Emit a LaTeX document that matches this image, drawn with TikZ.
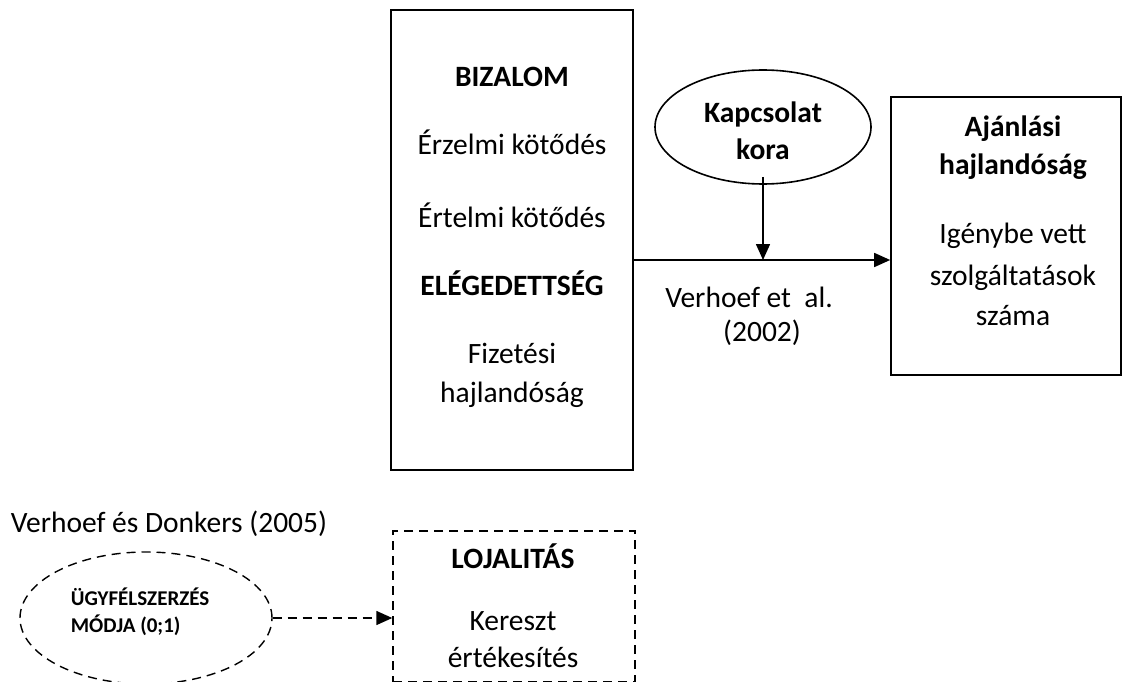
\documentclass[tikz,border=0pt]{standalone}
\usepackage{fontspec}
\setmainfont{Carlito}
\usetikzlibrary{arrows.meta,shapes.geometric}
\begin{document}
\begin{tikzpicture}[x=1pt,y=-1pt,
  line width=1.6pt,
  box/.style={draw,rectangle,inner sep=0pt},
  oval/.style={draw,ellipse,inner sep=0pt},
  dsh/.style={dash pattern=on 9pt off 6pt,line width=1.4pt},
  txt/.style={font=\fontsize{29.5}{35}\selectfont,anchor=base,inner sep=0pt},
  btxt/.style={font=\fontsize{29.5}{35}\selectfont\bfseries,anchor=base,inner sep=0pt},
  stxt/.style={font=\fontsize{21}{25}\selectfont\bfseries,anchor=base west,inner sep=0pt},
  arr/.style={-{Triangle[length=16pt,width=14pt]}}]
\useasboundingbox (0,0) rectangle (1122,682);
% boxes
\node[box,minimum width=242pt,minimum height=460pt] (big) at (512,240) {};
\node[oval,minimum width=216pt,minimum height=114pt] (kap) at (763,127) {};
\node[box,minimum width=230pt,minimum height=278pt] (aj) at (1006,236) {};
\node[box,dsh,minimum width=242pt,minimum height=151pt] (loj) at (514,606.5) {};
\node[oval,dsh,minimum width=252pt,minimum height=132pt] (ugy) at (146,618) {};
% texts in big box
\node[btxt] (t1) at (512,87) {BIZALOM};
\node[txt] (t2) at (512,155) {Érzelmi kötődés};
\node[txt] (t3) at (512,227) {Értelmi kötődés};
\node[btxt] (t4) at (512,295) {ELÉGEDETTSÉG};
\node[txt] (t5) at (512,363) {Fizetési};
\node[txt] (t6) at (512,402) {hajlandóság};
% ellipse
\node[btxt] (k1) at (763,123) {Kapcsolat};
\node[btxt] (k2) at (763,160) {kora};
% right box
\node[btxt] (a1) at (1013,137) {Ajánlási};
\node[btxt] (a2) at (1013,175) {hajlandóság};
\node[txt] (a3) at (1013,243) {Igénybe vett};
\node[txt] (a4) at (1013,285) {szolgáltatások};
\node[txt] (a5) at (1013,325) {száma};
% label on arrow
\node[txt] (v1) at (749,307) {Verhoef et\ \ al.};
\node[txt] (v2) at (762,341) {(2002)};
% bottom
\node[txt,anchor=base west] (vd) at (10,532) {Verhoef és Donkers (2005)};
\node[stxt] (u1) at (70,605) {ÜGYFÉLSZERZÉS};
\node[stxt] (u2) at (70,632) {MÓDJA (0;1)};
\node[btxt] (l1) at (513,568) {LOJALITÁS};
\node[txt] (l2) at (513,630) {Kereszt};
\node[txt] (l3) at (513,667) {értékesítés};
% connectors
\coordinate (j) at (763,260);
\draw[arr] (big.east |- j) -- (aj.west |- j);
\draw[arr] ([yshift=8pt]kap.south) -- (j);
\draw[arr,dsh] (ugy.east) -- (loj.west |- ugy.east);
\end{tikzpicture}
\end{document}
